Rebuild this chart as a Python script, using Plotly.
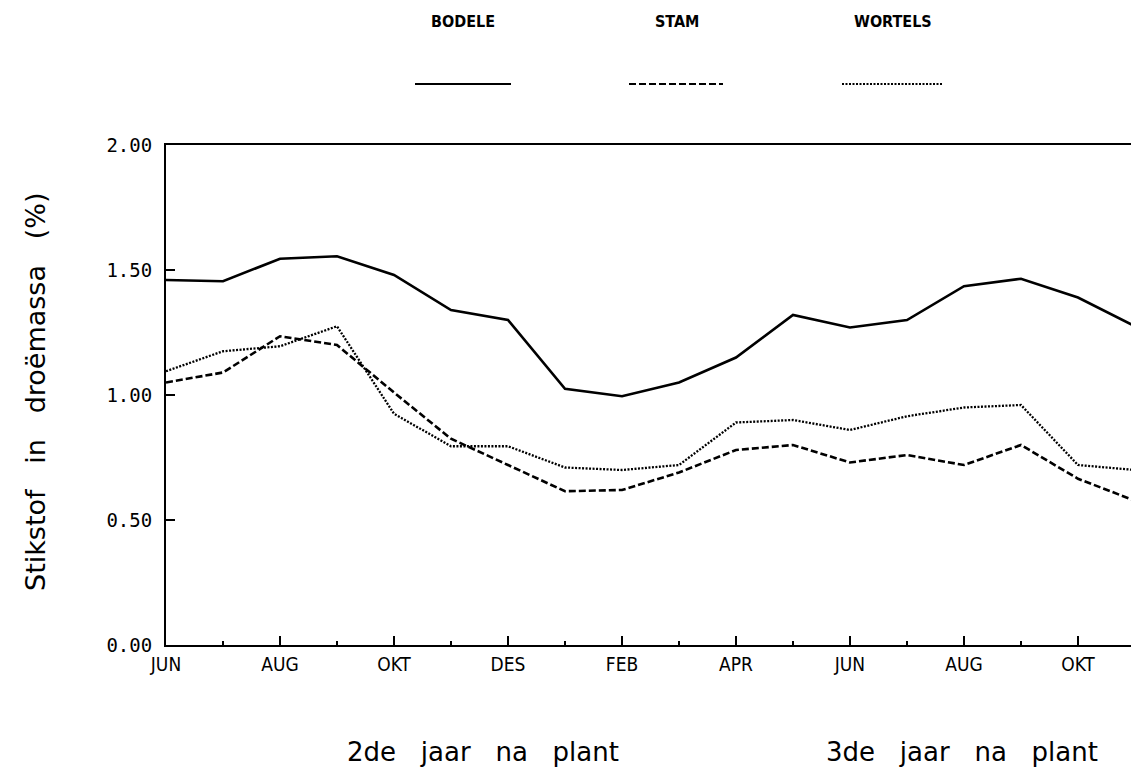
import plotly.graph_objects as go

# ---- data -------------------------------------------------------------
months = ["JUN", "JUL", "AUG", "SEP", "OKT", "NOV", "DES", "JAN", "FEB",
          "MRT", "APR", "MEI", "JUN", "JUL", "AUG", "SEP", "OKT", "NOV"]
bodele = [1.46, 1.455, 1.545, 1.555, 1.48, 1.34, 1.30, 1.025, 0.995,
          1.05, 1.15, 1.32, 1.27, 1.30, 1.435, 1.465, 1.39, 1.275]
stam = [1.05, 1.09, 1.235, 1.20, 1.01, 0.825, 0.72, 0.615, 0.62,
        0.69, 0.78, 0.80, 0.73, 0.76, 0.72, 0.80, 0.665, 0.577]
wortels = [1.095, 1.175, 1.195, 1.275, 0.925, 0.795, 0.795, 0.71, 0.70,
           0.72, 0.89, 0.90, 0.86, 0.915, 0.95, 0.96, 0.72, 0.70]
series_names = ["BODELE", "STAM", "WORTELS"]
y_ticks = [0.0, 0.5, 1.0, 1.5, 2.0]
y_title = "Stikstof in droëmassa (%)"
year_labels = ["2de jaar na plant", "3de jaar na plant"]

# ---- styling ----------------------------------------------------------
W, H = 1131, 773
L, T, B, R = 166, 145, 128, 0
PW, PH = W - L - R, H - T - B
styles = [dict(color="black", width=2.6, dash="solid"),
          dict(color="black", width=2.6, dash="7px,3px"),
          dict(color="black", width=2.3, dash="2px,1.5px")]
NB = "\u00a0"
COND = "DejaVu Sans Condensed, Liberation Sans Narrow, Arial Narrow, sans-serif"


def spaced(s, n=1):
    return s.replace(" ", NB * n + " ")


def px_x(px):
    return (px - L) / PW


def px_y(py):
    return (H - B - py) / PH


x = list(range(len(months)))
fig = go.Figure()
for name, vals, st in zip(series_names, [bodele, stam, wortels], styles):
    fig.add_trace(go.Scatter(x=x, y=vals, mode="lines", name=name,
                             line=st, showlegend=False))

fig.update_xaxes(
    range=[0, 16.93], tickmode="array", tickvals=x[::2], ticktext=months[::2],
    ticks="inside", ticklen=9, tickwidth=2, tickcolor="black",
    minor=dict(tickmode="array", tickvals=x[1::2], ticks="inside",
               ticklen=4, tickwidth=2, tickcolor="black"),
    showline=True, linewidth=2, linecolor="black", mirror=True,
    showgrid=False, zeroline=False,
    tickfont=dict(family=COND, size=19, color="black"), ticklabelstandoff=1,
)
fig.update_yaxes(
    range=[0, 2.0], tickmode="array", tickvals=y_ticks,
    ticktext=[f"{v:.2f}" for v in y_ticks],
    ticks="inside", ticklen=9, tickwidth=2, tickcolor="black",
    showline=True, linewidth=2, linecolor="black", mirror=False,
    showgrid=False, zeroline=False,
    tickfont=dict(family="DejaVu Sans Mono, monospace", size=19, color="black"),
    ticklabelstandoff=8,
)

ann = []
# y axis title
ann.append(dict(text=spaced(y_title, 2), xref="paper", yref="paper",
                x=px_x(35), y=px_y(392), textangle=-90, showarrow=False,
                xanchor="center", yanchor="middle",
                font=dict(family="DejaVu Sans", size=27, color="black")))
# year labels
for lab, cx in zip(year_labels, [483, 962]):
    ann.append(dict(text=spaced(lab, 2), xref="paper", yref="paper",
                    x=px_x(cx), y=px_y(752), showarrow=False,
                    xanchor="center", yanchor="middle",
                    font=dict(family="DejaVu Sans", size=26, color="black")))
# legend
legend_pos = [(463, 415, 511), (677, 629, 723), (893, 842, 942)]
shapes = []
for name, st, (cx, x0, x1) in zip(series_names, styles, legend_pos):
    ann.append(dict(text=f"<b>{name}</b>", xref="paper", yref="paper",
                    x=px_x(cx), y=px_y(21), showarrow=False,
                    xanchor="center", yanchor="middle",
                    font=dict(family=COND, size=16, color="black")))
    shapes.append(dict(type="line", xref="paper", yref="paper",
                       x0=px_x(x0), x1=px_x(x1), y0=px_y(84), y1=px_y(84),
                       line=dict(color="black", width=2.2, dash=st["dash"])))

fig.update_layout(
    width=W, height=H, margin=dict(l=L, r=R, t=T, b=B, autoexpand=False),
    plot_bgcolor="white", paper_bgcolor="white",
    annotations=ann, shapes=shapes,
)
fig.write_html("out.html", config={"displayModeBar": False},
               post_script="document.body.style.margin='0';"
                           "document.body.style.overflow='hidden';")
